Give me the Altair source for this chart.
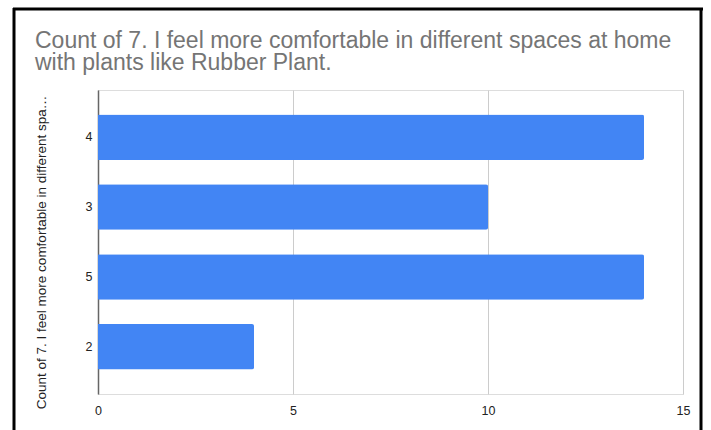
import altair as alt
import pandas as pd

# Survey responses: rating given and how many people chose it
ratings = ["4", "3", "5", "2"]
counts = [14, 10, 14, 4]

title_lines = [
    "Count of 7. I feel more comfortable in different spaces at home",
    "with plants like Rubber Plant.",
]
y_title = "Count of 7. I feel more comfortable in different spa\u2026"
x_ticks = [0, 5, 10, 15]

df = pd.DataFrame({"rating": ratings, "count": counts})
single = pd.DataFrame({"k": [0]})  # one row for decorations drawn once

FONT = "Liberation Sans"

bars = (
    alt.Chart(df)
    .mark_bar(color="#4285F4", cornerRadiusEnd=2)
    .encode(
        x=alt.X(
            "count:Q",
            scale=alt.Scale(domain=[0, 15], nice=False),
            axis=alt.Axis(
                values=x_ticks,
                title=None,
                domain=False,
                ticks=False,
                grid=True,
                gridColor="#cccccc",
                gridWidth=1,
                labelFlush=False,
                labelPadding=10,
                labelFontSize=12.5,
                labelColor="#222222",
                labelFont=FONT,
            ),
        ),
        y=alt.Y(
            "rating:N",
            sort=ratings,
            scale=alt.Scale(paddingInner=0.35, paddingOuter=0.35),
            axis=alt.Axis(
                title=y_title,
                titleFont=FONT,
                titleFontSize=13.5,
                titleFontWeight="normal",
                titleColor="#222222",
                titleAngle=-90,
                titleX=-57,
                titleY=162,
                titleAlign="center",
                titleBaseline="middle",
                domain=True,
                domainColor="#666666",
                domainWidth=1.5,
                ticks=False,
                labelPadding=6,
                labelFontSize=12.5,
                labelColor="#222222",
                labelFont=FONT,
            ),
        ),
    )
)

# Chart heading, two lines, set above the plot
heading = alt.Chart(single).mark_text(
    text=title_lines,
    align="left",
    baseline="alphabetic",
    font=FONT,
    fontSize=23,
    lineHeight=22.5,
    color="#757575",
).encode(x=alt.value(-63), y=alt.value(-42.5))

# Black frame around the whole chart
frame_left = alt.Chart(single).mark_rule(color="black", strokeWidth=3).encode(
    x=alt.value(-84), y=alt.value(-82), y2=alt.value(340)
)
frame_top = alt.Chart(single).mark_rule(color="black", strokeWidth=3).encode(
    x=alt.value(-85), x2=alt.value(605), y=alt.value(-81)
)
frame_right = alt.Chart(single).mark_rule(color="black", strokeWidth=3).encode(
    x=alt.value(603), y=alt.value(-82), y2=alt.value(340)
)

chart = (
    alt.layer(bars, heading, frame_left, frame_top, frame_right)
    .properties(
        width=585,
        height=304,
        autosize=alt.AutoSizeParams(type="none"),
        padding={"left": 98, "top": 90, "right": 28, "bottom": 36},
    )
    .configure_view(strokeWidth=0, stroke="transparent")
    .configure(background="white")
)

chart.save("out.html", embed_options={"renderer": "svg", "actions": False})
